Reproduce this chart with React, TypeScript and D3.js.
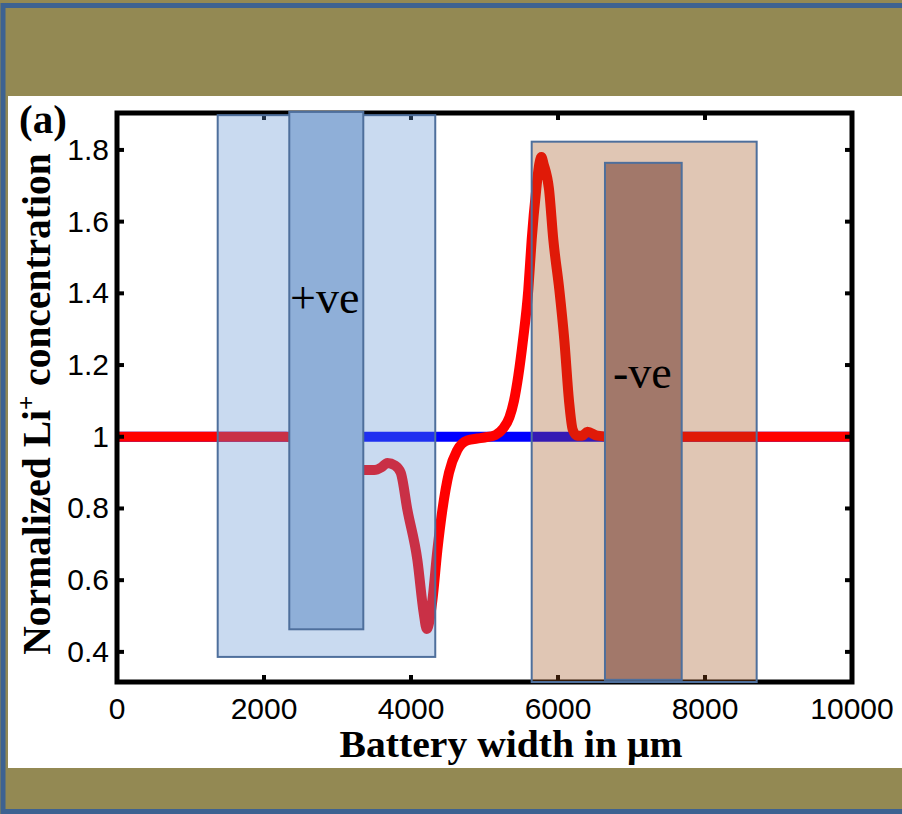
import React from "react";
import * as d3 from "d3";

// ---------- data ----------
const xTicks = [0, 2000, 4000, 6000, 8000, 10000];
const yTicks = [0.4, 0.6, 0.8, 1, 1.2, 1.4, 1.6, 1.8];
const yTickLabels = ["0.4", "0.6", "0.8", "1", "1.2", "1.4", "1.6", "1.8"];

// initial concentration (flat)
const initialX = [0, 10000];
const initialY = [1, 1];

// final concentration profile
const finalX = [0, 2300, 2700, 3100, 3316, 3500, 3600, 3679, 3780, 3860, 3951, 4087, 4173, 4214, 4291, 4359, 4427, 4517, 4631, 4767, 4900, 5000, 5150, 5250, 5340, 5401, 5460, 5524, 5596, 5642, 5704, 5745, 5774, 5805, 5878, 5936, 6018, 6086, 6150, 6200, 6260, 6330, 6400, 6536, 6700, 10000];
const finalY = [1, 1, 0.97, 0.92, 0.907, 0.907, 0.915, 0.927, 0.92, 0.9, 0.796, 0.656, 0.508, 0.464, 0.544, 0.684, 0.796, 0.9, 0.963, 0.99, 0.995, 0.998, 1.005, 1.022, 1.055, 1.1, 1.17, 1.27, 1.41, 1.55, 1.69, 1.76, 1.78, 1.76, 1.69, 1.55, 1.41, 1.27, 1.1, 1.02, 1.003, 1.003, 1.014, 1.003, 1.0, 1.0];

// electrode regions [x0, x1, yBottom, yTop]
const regionNames = ["posOuter", "posInner", "negOuter", "negInner"];
const regionX0 = [1370, 2344, 5642, 6639];
const regionX1 = [4330, 3351, 8703, 7683];
const regionY0 = [0.386, 0.463, 0.316, 0.322];
const regionY1 = [1.897, 1.906, 1.823, 1.764];

const annotations = ["+ve", "-ve"];
const annotX = [2354, 6748];
const annotY = [1.345, 1.136];

export default function App() {
  const W = 902, H = 814;
  const x = d3.scaleLinear().domain([0, 10000]).range([117, 852]);
  const y = d3.scaleLinear().domain([0.316, 1.903]).range([682, 113]);

  const line = d3
    .line<[number, number]>()
    .x((d) => x(d[0]))
    .y((d) => y(d[1]))
    .curve(d3.curveMonotoneX);

  const initPts: [number, number][] = initialX.map((v, i) => [v, initialY[i]]);
  const finalPts: [number, number][] = finalX.map((v, i) => [v, finalY[i]]);

  const serif = "'Liberation Serif', 'Times New Roman', serif";
  const sans = "'Liberation Sans', Arial, sans-serif";

  const rect = (i: number) => ({
    x: x(regionX0[i]),
    y: y(regionY1[i]),
    width: x(regionX1[i]) - x(regionX0[i]),
    height: y(regionY0[i]) - y(regionY1[i]),
  });

  const boxStroke = "#4e6f9c";
  const fills = [
    { fill: "rgb(93,144,210)", fillOpacity: 0.333 },
    { fill: "#8fafd8", fillOpacity: 1 },
    { fill: "rgb(160,80,25)", fillOpacity: 0.325 },
    { fill: "#a2786a", fillOpacity: 1 },
  ];

  const [x0, x1] = x.range();
  const [yb, yt] = y.range();

  return (
    <svg
      width={W}
      height={H}
      style={{ position: "absolute", left: 0, top: 0, display: "block" }}
    >
      <rect x={0} y={0} width={W} height={H} fill="#938953" />
      <rect x={3} y={5.5} width={W + 20} height={H - 8} fill="none" stroke="#3d6291" strokeWidth={5} />
      <rect x={8} y={96} width={W - 8} height={672} fill="#ffffff" />

      {/* lines */}
      <path d={line(initPts) || ""} fill="none" stroke="#0000ff" strokeWidth={10} />
      <path d={line(finalPts) || ""} fill="none" stroke="#ff0000" strokeWidth={10} strokeLinejoin="round" />

      {/* frame */}
      <rect x={x0} y={yt} width={x1 - x0} height={yb - yt} fill="none" stroke="#000" strokeWidth={5} />
      {xTicks.slice(1, -1).map((t) => (
        <g key={"xt" + t}>
          <line x1={x(t)} x2={x(t)} y1={yb} y2={yb - 7} stroke="#000" strokeWidth={4} />
          <line x1={x(t)} x2={x(t)} y1={yt} y2={yt + 7} stroke="#000" strokeWidth={4} />
        </g>
      ))}
      {yTicks.map((t) => (
        <g key={"yt" + t}>
          <line x1={x0} x2={x0 + 7} y1={y(t)} y2={y(t)} stroke="#000" strokeWidth={4} />
          <line x1={x1} x2={x1 - 7} y1={y(t)} y2={y(t)} stroke="#000" strokeWidth={4} />
        </g>
      ))}

      {/* electrode regions */}
      {regionNames.map((n, i) => {
        const r = rect(i);
        return (
          <rect key={n} {...r} fill={fills[i].fill} fillOpacity={fills[i].fillOpacity} stroke={boxStroke} strokeWidth={2} />
        );
      })}

      {annotations.map((a, i) => (
        <text key={a} x={x(annotX[i])} y={y(annotY[i])} fontFamily={serif} fontSize={46} fill="#000">
          {a}
        </text>
      ))}

      {/* tick labels */}
      {xTicks.map((t) => (
        <text key={"xl" + t} x={x(t)} y={719} textAnchor="middle" fontFamily={sans} fontSize={30} fill="#000">
          {t}
        </text>
      ))}
      {yTicks.map((t, i) => (
        <text key={"yl" + t} x={109} y={y(t) + 10} textAnchor="end" fontFamily={sans} fontSize={30} fill="#000">
          {yTickLabels[i]}
        </text>
      ))}

      {/* axis titles */}
      <text
        x={511}
        y={757}
        textAnchor="middle"
        fontFamily={serif}
        fontWeight="bold"
        fontSize={37}
        textLength={343}
        lengthAdjust="spacingAndGlyphs"
        fill="#000"
      >
        Battery width in μm
      </text>
      <text
        transform={`translate(50,${404}) rotate(-90)`}
        textAnchor="middle"
        fontFamily={serif}
        fontWeight="bold"
        fontSize={39.5}
        fill="#000"
      >
        Normalized Li<tspan dy={-15} fontSize={25}>+</tspan>
        <tspan dy={15}> concentration</tspan>
      </text>
      <text x={19} y={133} fontFamily={serif} fontWeight="bold" fontSize={41} fill="#000">
        (a)
      </text>
    </svg>
  );
}
